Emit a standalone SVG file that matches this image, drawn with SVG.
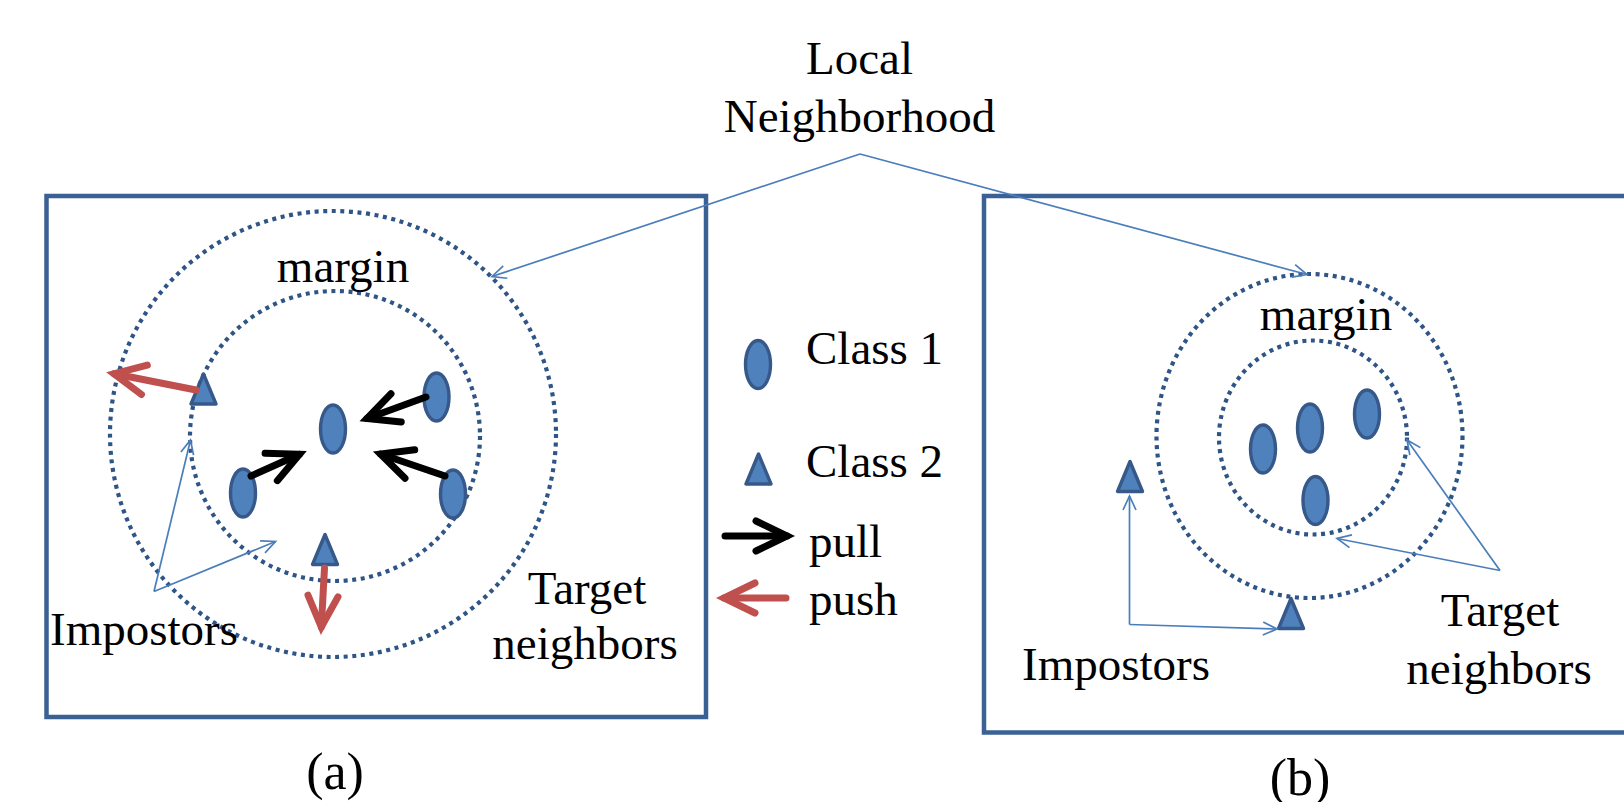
<svg xmlns="http://www.w3.org/2000/svg" width="1624" height="802" viewBox="0 0 1624 802">
  <style>
    .frame { fill: none; stroke: #3B6194; stroke-width: 4.5; }
    .ring { fill: none; stroke: #2F5586; stroke-width: 4.2; stroke-dasharray: 4 4.6; }
    .c1 { fill: #4F81BD; stroke: #36598A; stroke-width: 3.4; }
    .c2 { fill: #4F81BD; stroke: #36598A; stroke-width: 3.4; stroke-linejoin: round; }
    .pull { fill: none; stroke: #000000; stroke-width: 7; stroke-linecap: round; }
    .push { fill: none; stroke: #C0504D; stroke-width: 7; stroke-linecap: round; }
    .callout { fill: none; stroke: #4A7EBB; stroke-width: 1.7; }
    .lbl { font-family: "Liberation Serif", "Times New Roman", serif; font-size: 47px; fill: #000000; }
    .cap { font-family: "Liberation Serif", "Times New Roman", serif; font-size: 52px; fill: #000000; }
  </style>
  <defs>
    <marker id="pullHead" markerUnits="userSpaceOnUse" viewBox="-40 -20 50 40" refX="0" refY="0" markerWidth="50" markerHeight="40" orient="auto" overflow="visible">
      <path d="M -31 -15 L 0 0 L -31 15" fill="none" stroke="#000000" stroke-width="7" stroke-linecap="round" stroke-linejoin="miter"/>
    </marker>
    <marker id="pushHead" markerUnits="userSpaceOnUse" viewBox="-40 -20 50 40" refX="0" refY="0" markerWidth="50" markerHeight="40" orient="auto" overflow="visible">
      <path d="M -31 -15 L 0 0 L -31 15" fill="none" stroke="#C0504D" stroke-width="7" stroke-linecap="round" stroke-linejoin="miter"/>
    </marker>
    <marker id="thinHead" markerUnits="userSpaceOnUse" viewBox="-20 -10 24 20" refX="0" refY="0" markerWidth="24" markerHeight="20" orient="auto" overflow="visible">
      <path d="M -14 -6.5 L 0 0 L -14 6.5" fill="none" stroke="#4A7EBB" stroke-width="1.7"/>
    </marker>
    <ellipse id="oval" cx="0" cy="0" rx="12.5" ry="24"/>
    <polygon id="tri" points="0,-15 -12.5,15 12.5,15"/>
  </defs>

  <!-- title label -->
  <g id="title">
    <text class="lbl" x="859.5" y="74" text-anchor="middle">Local</text>
    <text class="lbl" x="859.5" y="132" text-anchor="middle">Neighborhood</text>
  </g>

  <!-- panel (a) -->
  <g id="panel-a">
    <rect class="frame" x="46.5" y="196" width="659.5" height="521"/>
    <circle class="ring" cx="333" cy="434" r="223"/>
    <circle class="ring" cx="335" cy="436" r="145"/>
    <text class="lbl" x="343" y="282" text-anchor="middle">margin</text>
    <text class="lbl" x="50" y="645">Impostors</text>
    <text class="lbl" x="587" y="604" text-anchor="middle">Target</text>
    <text class="lbl" x="585" y="659" text-anchor="middle">neighbors</text>
    <text class="cap" x="335" y="789" text-anchor="middle">(a)</text>
  </g>
  <g id="a-points">
    <use href="#oval" class="c1" x="333" y="429"/>
    <use href="#oval" class="c1" x="436.5" y="397"/>
    <use href="#oval" class="c1" x="243" y="493"/>
    <use href="#oval" class="c1" x="453" y="494"/>
    <use href="#tri" class="c2" x="203.5" y="389"/>
    <use href="#tri" class="c2" x="325" y="549.5"/>
  </g>

  <!-- legend -->
  <g id="legend">
    <use href="#oval" class="c1" x="758" y="364.5"/>
    <text class="lbl" x="806" y="364">Class 1</text>
    <use href="#tri" class="c2" x="758.5" y="469"/>
    <text class="lbl" x="806" y="477">Class 2</text>
    <line class="pull" x1="725" y1="536" x2="787" y2="536" marker-end="url(#pullHead)"/>
    <text class="lbl" x="809" y="557">pull</text>
    <line class="push" x1="786" y1="598" x2="724" y2="598" marker-end="url(#pushHead)"/>
    <text class="lbl" x="809" y="615">push</text>
  </g>

  <!-- panel (b) -->
  <g id="panel-b">
    <rect class="frame" x="984" y="196" width="700" height="536.5"/>
    <ellipse class="ring" cx="1309.5" cy="436" rx="153" ry="162"/>
    <ellipse class="ring" cx="1313" cy="437.5" rx="94" ry="97"/>
    <text class="lbl" x="1326" y="330" text-anchor="middle">margin</text>
    <text class="lbl" x="1022" y="680">Impostors</text>
    <text class="lbl" x="1500" y="626" text-anchor="middle">Target</text>
    <text class="lbl" x="1499" y="683.5" text-anchor="middle">neighbors</text>
    <text class="cap" x="1300" y="795" text-anchor="middle">(b)</text>
  </g>
  <g id="b-points">
    <use href="#oval" class="c1" x="1263" y="449"/>
    <use href="#oval" class="c1" x="1310" y="428"/>
    <use href="#oval" class="c1" x="1367" y="414"/>
    <use href="#oval" class="c1" x="1315.5" y="500.5"/>
    <use href="#tri" class="c2" x="1130" y="476.5"/>
    <use href="#tri" class="c2" x="1291" y="613.5"/>
  </g>

  <!-- connectors -->
  <g id="connectors">
    <!-- pull arrows -->
    <line class="pull" x1="426" y1="397" x2="367" y2="418.5" marker-end="url(#pullHead)"/>
    <line class="pull" x1="251" y1="476" x2="299.5" y2="454.3" marker-end="url(#pullHead)"/>
    <line class="pull" x1="445" y1="476" x2="380.5" y2="454" marker-end="url(#pullHead)"/>
    <!-- push arrows -->
    <line class="push" x1="196" y1="390" x2="114" y2="373.7" marker-end="url(#pushHead)"/>
    <line class="push" x1="324.5" y1="568" x2="321.3" y2="627" marker-end="url(#pushHead)"/>
    <!-- local neighborhood callouts -->
    <line class="callout" x1="860" y1="154" x2="492" y2="276.5" marker-end="url(#thinHead)"/>
    <line class="callout" x1="860" y1="154" x2="1307" y2="274.5" marker-end="url(#thinHead)"/>
    <!-- impostors (a) -->
    <line class="callout" x1="154" y1="591.5" x2="190.5" y2="440" marker-end="url(#thinHead)"/>
    <line class="callout" x1="154" y1="591.5" x2="275.5" y2="541.5" marker-end="url(#thinHead)"/>
    <!-- impostors (b) -->
    <line class="callout" x1="1129.5" y1="624.5" x2="1129.5" y2="496" marker-end="url(#thinHead)"/>
    <line class="callout" x1="1129.5" y1="624.5" x2="1277" y2="629" marker-end="url(#thinHead)"/>
    <!-- target neighbors (b) -->
    <line class="callout" x1="1500" y1="570.5" x2="1407" y2="440" marker-end="url(#thinHead)"/>
    <line class="callout" x1="1500" y1="570.5" x2="1337" y2="538.5" marker-end="url(#thinHead)"/>
  </g>
</svg>
